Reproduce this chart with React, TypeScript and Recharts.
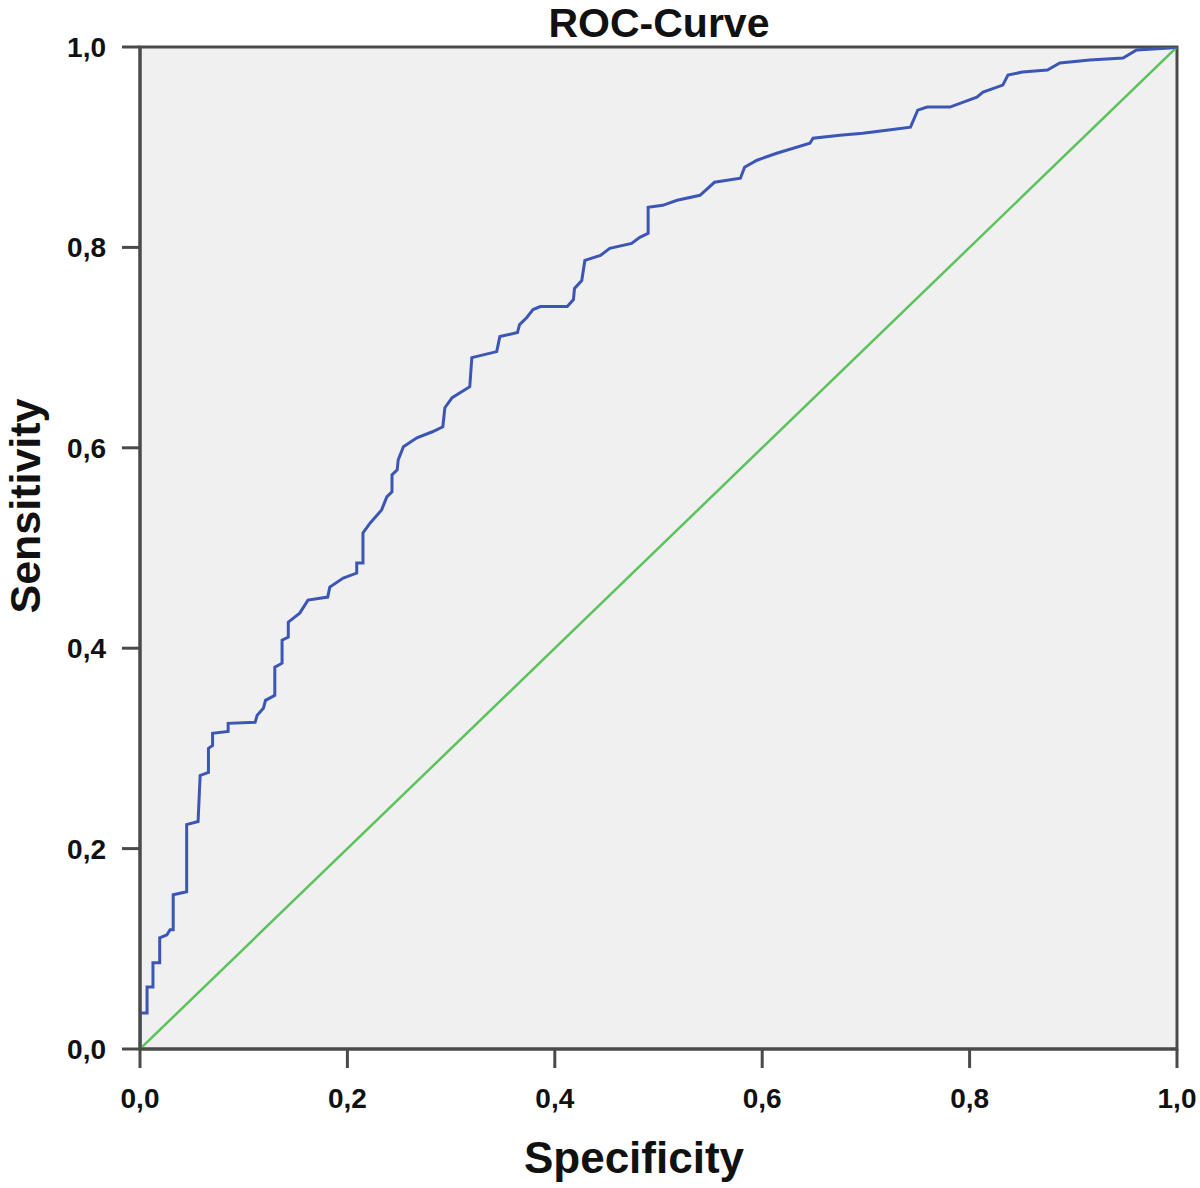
import React from 'react';
import { LineChart, Line, XAxis, YAxis, ReferenceArea } from 'recharts';

// ROC curve corners (1 - specificity axis labelled "Specificity")
const specificity = [
  0, 0, 0.0068, 0.0068, 0.0125, 0.0125, 0.019, 0.019, 0.026, 0.029, 0.032, 0.032,
  0.045, 0.045, 0.056, 0.058, 0.066, 0.066, 0.07, 0.07, 0.085, 0.085, 0.111, 0.113,
  0.119, 0.121, 0.13, 0.13, 0.137, 0.137, 0.143, 0.143, 0.154, 0.162, 0.181, 0.183,
  0.196, 0.209, 0.209, 0.215, 0.215, 0.222, 0.233, 0.238, 0.243, 0.243, 0.248, 0.249,
  0.254, 0.267, 0.282, 0.292, 0.294, 0.301, 0.318, 0.32, 0.344, 0.347, 0.364, 0.366,
  0.373, 0.379, 0.386, 0.412, 0.418, 0.419, 0.426, 0.429, 0.444, 0.453, 0.474, 0.482,
  0.49, 0.49, 0.504, 0.518, 0.54, 0.554, 0.579, 0.583, 0.595, 0.614, 0.646, 0.649,
  0.675, 0.697, 0.72, 0.743, 0.75, 0.759, 0.781, 0.807, 0.813, 0.832, 0.837, 0.851,
  0.875, 0.887, 0.916, 0.948, 0.961, 0.993, 1,
];
const sensitivity = [
  0, 0.036, 0.036, 0.062, 0.062, 0.086, 0.086, 0.111, 0.114, 0.119, 0.119, 0.154,
  0.157, 0.224, 0.227, 0.273, 0.276, 0.3, 0.303, 0.315, 0.317, 0.325, 0.326, 0.333,
  0.34, 0.348, 0.353, 0.381, 0.385, 0.408, 0.411, 0.426, 0.435, 0.448, 0.451, 0.461,
  0.47, 0.475, 0.485, 0.485, 0.515, 0.525, 0.538, 0.551, 0.556, 0.573, 0.578, 0.588,
  0.601, 0.61, 0.616, 0.621, 0.64, 0.65, 0.661, 0.69, 0.696, 0.711, 0.715, 0.723,
  0.73, 0.738, 0.741, 0.741, 0.748, 0.759, 0.767, 0.787, 0.792, 0.799, 0.804, 0.81,
  0.814, 0.84, 0.842, 0.847, 0.852, 0.865, 0.869, 0.88, 0.887, 0.894, 0.904, 0.909,
  0.912, 0.914, 0.917, 0.92, 0.937, 0.94, 0.94, 0.95, 0.955, 0.962, 0.972, 0.975,
  0.977, 0.984, 0.987, 0.989, 0.997, 0.999, 1,
];
const referenceX = [0, 1];
const referenceY = [0, 1];
const axisTicks = [0, 0.2, 0.4, 0.6, 0.8, 1];

const rocData = specificity.map((x, i) => ({ x, y: sensitivity[i] }));
const diagData = referenceX.map((x, i) => ({ x, y: referenceY[i] }));

const fmt = (v: number) => v.toFixed(1).replace('.', ',');
const font = '"Liberation Sans", Arial, sans-serif';
const tickStyle = { fontSize: 28, fontWeight: 700, fill: '#111', fontFamily: font };

const App: React.FC = () => {
  return (
    <div style={{ position: 'absolute', left: 0, top: 0, width: 1200, height: 1188, background: '#fff' }}>
      <LineChart width={1200} height={1188} margin={{ top: 47, right: 23, bottom: 0, left: 0 }}>
        <XAxis
          type="number"
          dataKey="x"
          domain={[0, 1]}
          ticks={axisTicks}
          tickFormatter={fmt}
          tick={tickStyle}
          tickSize={19}
          tickMargin={20}
          stroke="#4a4a4a"
          strokeWidth={3}
          height={139}
          allowDataOverflow
        />
        <YAxis
          type="number"
          dataKey="y"
          domain={[0, 1]}
          ticks={axisTicks}
          tickFormatter={fmt}
          tick={tickStyle}
          tickSize={18}
          tickMargin={16}
          stroke="#4a4a4a"
          strokeWidth={3}
          width={140}
          allowDataOverflow
        />
        <ReferenceArea x1={0} x2={1} y1={0} y2={1} fill="#f0f0f0" fillOpacity={1} stroke="#4a4a4a" strokeWidth={3} />
        <Line data={diagData} dataKey="y" type="linear" stroke="#5cc25c" strokeWidth={2.5} dot={false} isAnimationActive={false} />
        <Line data={rocData} dataKey="y" type="linear" stroke="#3c56b6" strokeWidth={3} dot={false} isAnimationActive={false} />
      </LineChart>
      <svg width={1200} height={1188} style={{ position: 'absolute', left: 0, top: 0, pointerEvents: 'none' }}>
        <text x={659} y={37} textAnchor="middle" fontSize={41} fontWeight={700} fontFamily={font} fill="#111">
          ROC-Curve
        </text>
        <text x={634} y={1173} textAnchor="middle" fontSize={44} fontWeight={700} fontFamily={font} fill="#111">
          Specificity
        </text>
        <text
          x={0}
          y={0}
          transform="translate(40,506) rotate(-90)"
          textAnchor="middle"
          fontSize={43}
          fontWeight={700}
          fontFamily={font}
          fill="#111"
        >
          Sensitivity
        </text>
      </svg>
    </div>
  );
};

export default App;
